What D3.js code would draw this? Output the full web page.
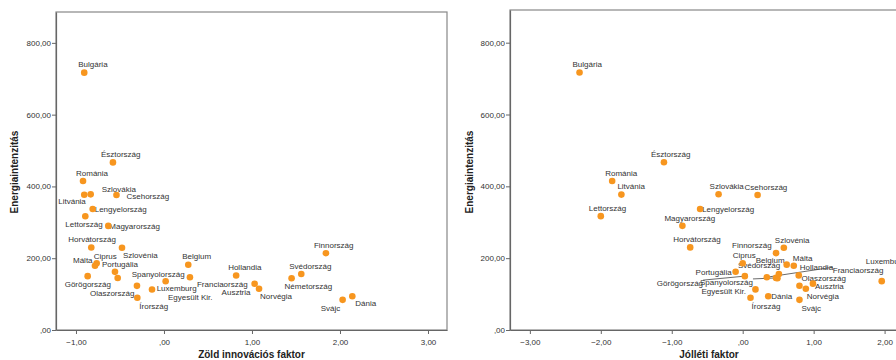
<!DOCTYPE html>
<html>
<head>
<meta charset="utf-8">
<script src="https://cdnjs.cloudflare.com/ajax/libs/d3/7.8.5/d3.min.js"></script>
<style>
  body { margin: 0; background: #fff; }
  svg { display: block; font-family: "Liberation Sans", Arial, sans-serif; }
  .tick text { font-size: 8px; fill: #333; }
  .tick line, .domain { stroke: #666; }
</style>
</head>
<body>
<div id="chart"></div>
<script>
// countries (same order in every array)
var countries = ["Bulgária", "Észtország", "Románia", "Litvánia", "Szlovákia", "Csehország",
  "Lengyelország", "Lettország", "Magyarország", "Horvátország", "Szlovénia", "Ciprus", "Málta",
  "Portugália", "Görögország", "Spanyolország", "Luxemburg", "Olaszország", "Egyesült Kir.",
  "Írország", "Belgium", "Franciaország", "Hollandia", "Ausztria", "Norvégia", "Németország",
  "Svédország", "Finnország", "Svájc", "Dánia"];

var greenFactor = [-0.906, -0.58, -0.92, -0.906, -0.833, -0.54, -0.81, -0.894, -0.633, -0.826,
  -0.477, -0.765, -0.784, -0.557, -0.867, -0.526, 0.019, -0.307, -0.136, -0.303,
  0.276, 0.295, 0.82, 1.03, 1.08, 1.45, 1.56, 1.84, 2.03, 2.14];

var welfareFactor = [-2.30, -1.11, -1.84, -1.71, -0.34, 0.21, -0.60, -2.00, -0.85, -0.74,
  0.58, 0.00, 0.72, -0.10, 0.03, 0.47, 1.96, 0.80, 0.18, 0.11,
  0.62, 0.34, 0.79, 0.99, 0.89, 0.49, 0.51, 0.47, 0.80, 0.36];

var energyIntensity = [717, 467, 415, 377, 378, 376, 337, 317, 290, 230,
  229, 186, 179, 162, 150, 145, 136, 123, 113, 90,
  182, 147, 152, 129, 115, 144, 156, 214, 84, 94];

var yTicks = [0, 200, 400, 600, 800];
var greenTicks = [-1, 0, 1, 2, 3];
var welfareTicks = [-3, -2, -1, 0, 1, 2];

// label placement next to each point: [dx, dy, leader]
var greenLabels = {
  "Bulgária": [-6, -8], "Észtország": [-12, -8], "Románia": [-7, -8], "Szlovákia": [11, -5],
  "Litvánia": [-26, 7], "Csehország": [10, 1], "Lengyelország": [2, 0], "Lettország": [-20, 8],
  "Magyarország": [1, 0], "Horvátország": [-23, -8], "Szlovénia": [1, 7], "Ciprus": [-3, -7],
  "Málta": [-22, -6], "Portugália": [-13, -8], "Görögország": [-23, 8], "Olaszország": [-47, 7],
  "Spanyolország": [14, -4], "Luxemburg": [-9, 7], "Egyesült Kir.": [16, 8], "Írország": [2, 9],
  "Belgium": [-6, -8], "Franciaország": [7, 7], "Hollandia": [-8, -8], "Ausztria": [-33, 9],
  "Norvégia": [1, 7], "Finnország": [-12, -8], "Svédország": [-12, -8], "Németország": [-7, 8],
  "Svájc": [-22, 8], "Dánia": [3, 7]
};
var welfareLabels = {
  "Bulgária": [-7, -8], "Észtország": [-13, -8], "Románia": [-7, -8], "Litvánia": [-4, -8],
  "Lettország": [-12, -8], "Szlovákia": [-9, -8], "Csehország": [-13, -8], "Lengyelország": [2, 0],
  "Magyarország": [-18, -8], "Horvátország": [-17, -8], "Finnország": [-44, -8], "Szlovénia": [-9, -8],
  "Ciprus": [-10, -8], "Belgium": [-31, -4], "Málta": [-1, -8], "Portugália": [-40, 0],
  "Svédország": [-41, -9], "Görögország": [-88, 7, "end"], "Spanyolország": [-76, 4, "end"],
  "Egyesült Kir.": [-54, 2], "Írország": [1, 9], "Dánia": [3, 0], "Hollandia": [1, -8],
  "Franciaország": [66, -7, "start"], "Olaszország": [2, -8], "Ausztria": [2, 3],
  "Norvégia": [1, 8], "Svájc": [2, 8], "Luxemburg": [-16, -20], "Németország": null
};

var svg = d3.select("#chart").append("svg")
  .attr("width", 896)
  .attr("height", 360);

// SPSS style numbers: 800,00 / ,00 / -1,00
function fmt(v) {
  var s = d3.format(".2f")(v).replace(".", ",");
  return s.replace(/^-?0,/, ",");
}

function drawPanel(cfg) {
  var x = d3.scaleLinear().domain(cfg.xDomain).range(cfg.xRange);
  var y = d3.scaleLinear().domain(cfg.yDomain).range([330, cfg.top]);
  var g = svg.append("g");

  // plot frame
  g.append("rect")
    .attr("x", cfg.xRange[0])
    .attr("y", cfg.top)
    .attr("width", cfg.xRange[1] - cfg.xRange[0])
    .attr("height", 330 - cfg.top)
    .attr("fill", "none")
    .attr("stroke", "#888")
    .attr("stroke-width", 1.2);

  g.append("g")
    .attr("transform", "translate(0,330)")
    .call(d3.axisBottom(x).tickValues(cfg.xTicks).tickSize(4).tickPadding(5).tickSizeOuter(0).tickFormat(fmt));

  g.append("g")
    .attr("transform", "translate(" + cfg.xRange[0] + ",0)")
    .call(d3.axisLeft(y).tickValues(yTicks).tickSize(4).tickPadding(1).tickSizeOuter(0).tickFormat(fmt));

  g.selectAll(".domain").attr("stroke-width", 1.2);

  // axis titles
  g.append("text")
    .attr("x", (cfg.xRange[0] + cfg.xRange[1]) / 2)
    .attr("y", 354)
    .attr("dy", "0.35em")
    .attr("text-anchor", "middle")
    .attr("font-size", "10px")
    .attr("font-weight", "bold")
    .attr("fill", "#222")
    .text(cfg.xTitle);

  g.append("text")
    .attr("transform", "translate(" + cfg.yTitleX + ",172) rotate(-90)")
    .attr("dy", "0.35em")
    .attr("text-anchor", "middle")
    .attr("font-size", "10px")
    .attr("font-weight", "bold")
    .attr("fill", "#222")
    .text("Energiaintenzitás");

  var data = countries.map(function(c, i) {
    return { name: c, x: cfg.xValues[i], y: energyIntensity[i], pos: cfg.labels[c] };
  });

  var labelled = data.filter(function(d) { return d.pos; });

  var texts = g.selectAll(".lbl")
    .data(labelled)
    .enter()
    .append("text")
    .attr("class", "lbl")
    .attr("x", function(d) { return x(d.x) + d.pos[0]; })
    .attr("y", function(d) { return y(d.y) + d.pos[1]; })
    .attr("dy", "0.35em")
    .attr("font-size", "8px")
    .attr("fill", "#333")
    .text(function(d) { return d.name; });

  // leader lines for labels pushed away from their point
  texts.each(function(d) {
    if (!d.pos[2]) return;
    var w = this.getComputedTextLength();
    var lx = x(d.x) + d.pos[0] + (d.pos[2] === "end" ? w : 0);
    g.append("line")
      .attr("x1", lx)
      .attr("y1", y(d.y) + d.pos[1] - 3)
      .attr("x2", x(d.x))
      .attr("y2", y(d.y))
      .attr("stroke", "#444")
      .attr("stroke-width", 0.8);
  });

  g.selectAll(".dot")
    .data(data)
    .enter()
    .append("circle")
    .attr("class", "dot")
    .attr("cx", function(d) { return x(d.x); })
    .attr("cy", function(d) { return y(d.y); })
    .attr("r", 3.3)
    .attr("fill", "#f7961f");
}

drawPanel({
  xDomain: [-1.227, 3.216], xRange: [56, 447], top: 12, yDomain: [0, 886],
  xTicks: greenTicks, xValues: greenFactor, labels: greenLabels,
  xTitle: "Zöld innovációs faktor", yTitleX: 14
});

drawPanel({
  xDomain: [-3.28, 2.33], xRange: [510, 908], top: 10, yDomain: [0, 891],
  xTicks: welfareTicks, xValues: welfareFactor, labels: welfareLabels,
  xTitle: "Jólléti faktor", yTitleX: 469
});
</script>
</body>
</html>
